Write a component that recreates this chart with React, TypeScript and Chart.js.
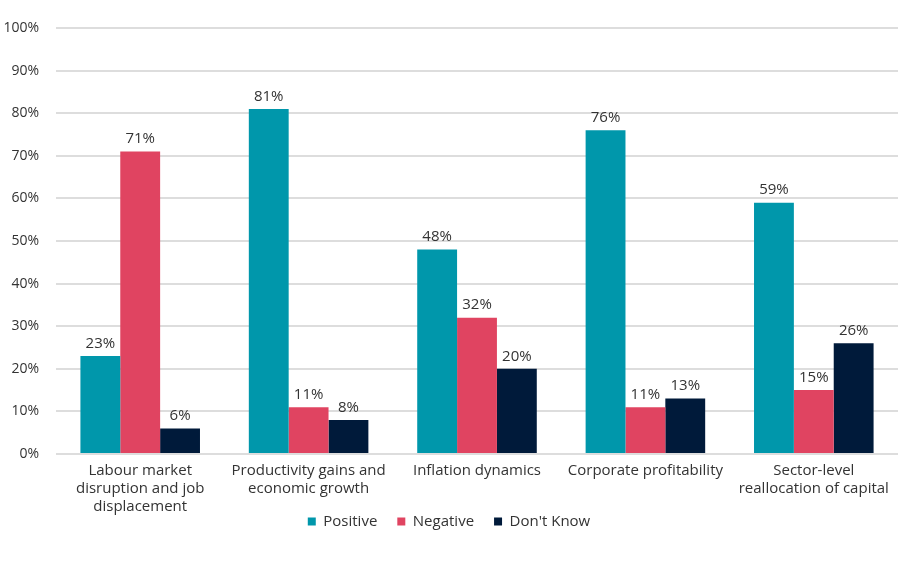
import React, { useEffect, useRef } from 'react';
import { Chart, registerables, Plugin } from 'chart.js';

Chart.register(...registerables);

const categories: (string | string[])[] = [
  ['Labour market', 'disruption and job', 'displacement'],
  ['Productivity gains and', 'economic growth'],
  'Inflation dynamics',
  'Corporate profitability',
  ['Sector-level', 'reallocation of capital'],
];

const positive = [23, 81, 48, 76, 59];
const negative = [71, 11, 32, 11, 15];
const dontKnow = [6, 8, 20, 13, 26];

const FONT = "'Open Sans', 'Noto Sans', sans-serif";
const X_SHRINK = 22;

// draws the % value above every bar
const valueLabels: Plugin<'bar'> = {
  id: 'valueLabels',
  afterDatasetsDraw(chart) {
    const ctx = chart.ctx;
    ctx.save();
    ctx.font = `15px ${FONT}`;
    ctx.fillStyle = '#333333';
    ctx.textAlign = 'center';
    ctx.textBaseline = 'bottom';
    chart.data.datasets.forEach((ds, i) => {
      const meta = chart.getDatasetMeta(i);
      meta.data.forEach((bar, j) => {
        const v = ds.data[j] as number;
        ctx.fillText(`${v}%`, bar.x, bar.y - 5);
      });
    });
    ctx.restore();
  },
};

// the x axis is fitted shorter so the legend sits close to the labels;
// give its box the room back after layout so the labels are not clipped
const unclipX: Plugin<'bar'> = {
  id: 'unclipX',
  afterLayout(chart) {
    const x = chart.scales.x;
    x.bottom += X_SHRINK;
    x.height += X_SHRINK;
  },
};

const App: React.FC = () => {
  const canvasRef = useRef<HTMLCanvasElement | null>(null);
  const chartRef = useRef<Chart | null>(null);

  useEffect(() => {
    if (chartRef.current) chartRef.current.destroy();
    const ctx = canvasRef.current?.getContext('2d');
    if (!ctx) return;

    chartRef.current = new Chart(ctx, {
      type: 'bar',
      data: {
        labels: categories,
        datasets: [
          { label: 'Positive', data: positive, backgroundColor: '#0097ab' },
          { label: 'Negative', data: negative, backgroundColor: '#e04461' },
          { label: "Don't Know", data: dontKnow, backgroundColor: '#001a3a' },
        ],
      },
      options: {
        animation: false,
        responsive: true,
        maintainAspectRatio: false,
        layout: { padding: { top: 28, right: 6, left: 0, bottom: 24 } },
        datasets: {
          bar: { categoryPercentage: 0.71, barPercentage: 1.0, borderWidth: 0 },
        },
        scales: {
          x: {
            grid: { display: false },
            border: { display: false },
            ticks: {
              color: '#333333',
              font: { family: FONT, size: 15 },
              padding: 0,
              maxRotation: 0,
              autoSkip: false,
            },
            afterFit: (scale) => {
              scale.height -= X_SHRINK;
            },
          },
          y: {
            min: 0,
            max: 100,
            border: { display: false },
            grid: { color: '#dddddd', lineWidth: 2, drawTicks: false },
            ticks: {
              stepSize: 10,
              color: '#333333',
              font: { family: FONT, size: 14 },
              padding: 17,
              callback: (v) => `${v}%`,
            },
            afterFit: (scale) => {
              scale.width = 56;
            },
          },
        },
        plugins: {
          legend: {
            position: 'bottom',
            labels: {
              boxWidth: 8,
              boxHeight: 8,
              padding: 20,
              color: '#333333',
              font: { family: FONT, size: 15 },
            },
          },
          tooltip: { enabled: false },
        },
      },
      plugins: [valueLabels, unclipX],
    });

    return () => {
      if (chartRef.current) {
        chartRef.current.destroy();
        chartRef.current = null;
      }
    };
  }, []);

  return (
    <div style={{ position: 'absolute', left: 0, top: 0, width: '904px', height: '563px', background: '#fff' }}>
      <canvas ref={canvasRef} style={{ width: '100%', height: '100%' }}></canvas>
    </div>
  );
};

export default App;
